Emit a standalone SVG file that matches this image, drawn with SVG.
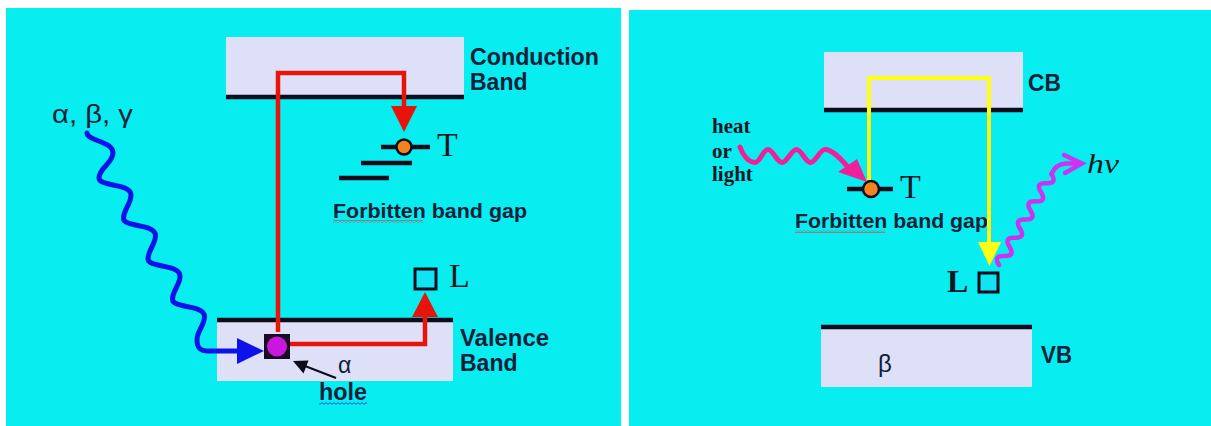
<svg xmlns="http://www.w3.org/2000/svg" width="1211" height="426" viewBox="0 0 1211 426">
<defs>
<style>
.bg{fill:#08eef0}
.band{fill:#dde0f6}
.edge{stroke:#0c0c1c;stroke-width:4.5}
.lvl{stroke:#0c0c1c;stroke-width:4.5}
.lbl{font-family:"Liberation Sans",Arial,sans-serif;font-weight:bold;fill:#10203a}
.sym{font-family:"Liberation Sans",Arial,sans-serif;fill:#10203a}
.ser{font-family:"Liberation Serif","Times New Roman",serif;fill:#141826}
.red{fill:none;stroke:#e8140c;stroke-width:4.5}
.redf{fill:#e8140c}
.yel{fill:none;stroke:#ffff10;stroke-width:4}
.yelf{fill:#ffff10}
.blue{fill:none;stroke:#0c12e8;stroke-width:5;stroke-linecap:round}
.bluef{fill:#0c12e8}
.pink{fill:none;stroke:#f0209a;stroke-width:5;stroke-linecap:round}
.pinkf{fill:#f0209a}
.purp{fill:none;stroke:#cc33ee;stroke-width:4.5;stroke-linecap:round}
.trap{fill:#f58220;stroke:#0c0c1c;stroke-width:2.5}
.lum{fill:#10e4f2;stroke:#0c0c1c;stroke-width:3}
</style>
<pattern id="wavR" width="4" height="3" patternUnits="userSpaceOnUse"><path d="M0,2.3 L2,0.7 L4,2.3" fill="none" stroke="#e03030" stroke-width="0.9"/></pattern>
<pattern id="wavB" width="4" height="3" patternUnits="userSpaceOnUse"><path d="M0,2.3 L2,0.7 L4,2.3" fill="none" stroke="#2040e0" stroke-width="0.9"/></pattern>
</defs>

<rect x="0" y="0" width="1211" height="426" fill="#ffffff"/>
<rect class="bg" x="6" y="8" width="615" height="418"/>
<rect class="bg" x="629" y="10" width="582" height="416"/>

<!-- LEFT PANEL -->
<g id="cb-left">
<rect class="band" x="226" y="37" width="238" height="60"/>
<line class="edge" x1="226" y1="97" x2="464" y2="97"/>
<text class="lbl" x="470" y="65" font-size="23" textLength="129" lengthAdjust="spacingAndGlyphs">Conduction</text>
<text class="lbl" x="470" y="90" font-size="23">Band</text>
</g>
<g id="vb-left">
<rect class="band" x="217" y="320" width="236" height="61"/>
<line class="edge" x1="217" y1="320" x2="453" y2="320"/>
<text class="lbl" x="460" y="346" font-size="23" textLength="89" lengthAdjust="spacingAndGlyphs">Valence</text>
<text class="lbl" x="460" y="371" font-size="23">Band</text>
<text class="sym" x="338" y="373" font-size="23">α</text>
</g>
<g id="radiation-label">
<text class="sym" x="52" y="123" font-size="25" textLength="81" lengthAdjust="spacingAndGlyphs">α, β, γ</text>
</g>
<g id="trap-left">
<line class="lvl" x1="381" y1="147" x2="430" y2="147"/>
<line class="lvl" x1="361" y1="163" x2="412" y2="163"/>
<line class="lvl" x1="339" y1="178" x2="389" y2="178"/>
<circle class="trap" cx="404" cy="147" r="7.5"/>
<text class="ser" x="437" y="156" font-size="34">T</text>
</g>
<g id="gap-left">
<text class="lbl" x="333" y="218" font-size="21" textLength="194" lengthAdjust="spacingAndGlyphs">Forbitten band gap</text>
<rect x="333" y="220" width="90" height="3" fill="url(#wavR)"/>
</g>
<g id="lum-left">
<rect class="lum" x="415" y="269" width="21" height="20"/>
<text class="ser" x="449" y="287" font-size="34">L</text>
</g>
<g id="hole">
<rect x="264" y="334" width="26" height="25" fill="#1a0a22"/>
<circle cx="277" cy="346.5" r="10" fill="#c818e0"/>
<text class="lbl" x="319" y="400" font-size="23" textLength="48" lengthAdjust="spacingAndGlyphs">hole</text>
<rect x="319" y="402" width="48" height="3" fill="url(#wavB)"/>
</g>

<!-- RIGHT PANEL -->
<g id="cb-right">
<rect class="band" x="824" y="52" width="199" height="58"/>
<line class="edge" x1="824" y1="110" x2="1023" y2="110"/>
<text class="lbl" x="1028" y="91" font-size="23" textLength="33" lengthAdjust="spacingAndGlyphs">CB</text>
</g>
<g id="vb-right">
<rect class="band" x="821" y="327" width="211" height="60"/>
<line class="edge" x1="821" y1="327" x2="1032" y2="327"/>
<text class="lbl" x="1041" y="363" font-size="23" textLength="31" lengthAdjust="spacingAndGlyphs">VB</text>
<text class="sym" x="878" y="372" font-size="24">β</text>
</g>
<g id="excite-label">
<text class="ser" font-weight="bold" font-size="21" x="712" y="133">heat</text>
<text class="ser" font-weight="bold" font-size="21" x="712" y="158">or</text>
<text class="ser" font-weight="bold" font-size="21" x="712" y="181">light</text>
</g>
<g id="trap-right">
<line class="lvl" x1="847" y1="189" x2="893" y2="189"/>
<circle class="trap" cx="871" cy="189" r="8"/>
<text class="ser" x="900" y="198" font-size="34">T</text>
</g>
<g id="gap-right">
<text class="lbl" x="795" y="228" font-size="21" textLength="193" lengthAdjust="spacingAndGlyphs">Forbitten band gap</text>
<rect x="795" y="230" width="90" height="3" fill="url(#wavR)"/>
</g>
<g id="lum-right">
<rect class="lum" x="979" y="273" width="19" height="19"/>
<text class="ser" font-weight="bold" x="947" y="292" font-size="32">L</text>
</g>
<g id="photon-label">
<text class="ser" font-style="italic" x="1087" y="173" font-size="28" textLength="32" lengthAdjust="spacingAndGlyphs">hν</text>
</g>

<!-- CONNECTORS -->
<g id="connectors">
<path class="blue" d="M87,133 C87,141 113,141 113,153 C113,163 99,168 99,178 C99,187 131,183 131,195 C131,204 123.5,209.5 123.5,218.5 C123.5,227.5 155.5,223.5 155.5,235.5 C155.5,244.5 148,250 148,259 C148,268 180,264 180,276 C180,285 172.5,290.5 172.5,299.5 C172.5,308.5 204.5,304.5 204.5,316.5 C204.5,325.5 197,331 197,340 C197,348 200,351 208,351 L240,351"/>
<polygon class="bluef" points="237,338 237,364 264,351"/>
<path class="red" d="M278,332 V73 H404 V108"/>
<polygon class="redf" points="391,106 417,106 404,132"/>
<path class="red" d="M290,344 H425 V315"/>
<polygon class="redf" points="412,317 438,317 425,292"/>
<line x1="336" y1="378" x2="305" y2="366" stroke="#0c0c1c" stroke-width="2"/>
<polygon points="293,361 308.5,360.5 303.5,373.5" fill="#0c0c1c"/>
<path class="pink" d="M740,147 C743,156 749,162.5 755,162.5 C760,162.5 763,149.5 768,149.5 S777,162.5 782,162.5 S791.5,149.5 796.5,149.5 S805.5,162.5 810.5,162.5 S820,149.5 825,149.5 C832,149.5 840,158 847,166"/>
<polygon class="pinkf" points="838,172 857,159 867,182"/>
<path class="yel" d="M869,180 V78 H989 V244"/>
<polygon class="yelf" points="978,242 1001,242 989.5,266"/>
<path class="purp" transform="translate(999,265) rotate(-60)" d="M0,0 c3.5,-6.7 7,-6.7 10.5,0 s7,6.7 10.5,0 s7,-6.7 10.5,0 s7,6.7 10.5,0 s7,-6.7 10.5,0 s7,6.7 10.5,0 s7,-6.7 10.5,0 s7,6.7 10.5,0 s7,-6.7 10.5,0 s7,6.7 10.5,0"/>
<path class="purp" d="M1051.5,174 C1054,168 1058,164 1066,163.5 L1079,163.5"/>
<polyline class="purp" points="1064,155 1082,163.5 1065,173" stroke-linejoin="miter"/>
</g>
</svg>
